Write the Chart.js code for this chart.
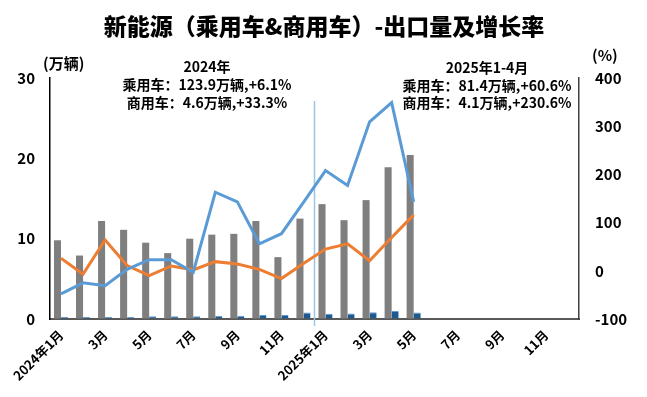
<!DOCTYPE html>
<html>
<head>
<meta charset="utf-8">
<script src="https://cdn.jsdelivr.net/npm/chart.js@4.4.1/dist/chart.umd.min.js"></script>
<style>
  html, body { margin: 0; padding: 0; background: #fff; }
  #wrap { width: 647px; height: 397px; position: relative; }
</style>
</head>
<body>
<div id="wrap"><canvas id="exportChart"></canvas></div>
<script>
// months on the x axis (2024-01 .. 2025-12)
const months = ['2024年1月', '2月', '3月', '4月', '5月', '6月', '7月', '8月', '9月', '10月', '11月', '12月',
                '2025年1月', '2月', '3月', '4月', '5月', '6月', '7月', '8月', '9月', '10月', '11月', '12月'];

// export volume, 万辆 (left axis)
const passengerExport = [9.8, 7.9, 12.2, 11.1, 9.5, 8.2, 10.0, 10.5, 10.6, 12.2, 7.7, 12.5, 14.3, 12.3, 14.8, 18.9, 20.4];
const commercialExport = [0.25, 0.25, 0.25, 0.25, 0.35, 0.33, 0.33, 0.4, 0.4, 0.5, 0.5, 0.8, 0.65, 0.7, 0.85, 1.0, 0.8];

// growth rate, % (right axis)
const commercialGrowth = [-48, -25, -31, 3, 23, 23, -3, 163, 143, 56, 77, 142, 208, 177, 309, 349, 143];
const passengerGrowth = [26, -7, 64, 11, -10, 10, 2, 19, 14, 3, -16, 15, 45, 56, 21, 69, 116];

const leftTicks = [0, 10, 20, 30];
const rightTicks = [-100, 0, 100, 200, 300, 400];

const FONT = '"Noto Sans CJK SC", "Noto Sans", sans-serif';

// title, unit labels, summary notes and the year divider
const overlayPlugin = {
    id: 'overlay',
    beforeDatasetsDraw(chart) {
        const { ctx, scales: { x } } = chart;
        const xDiv = x.getPixelForValue(11.5);
        ctx.save();
        ctx.strokeStyle = '#9DC3E6';
        ctx.lineWidth = 1.5;
        ctx.beginPath();
        ctx.moveTo(xDiv, 101);
        ctx.lineTo(xDiv, 326);
        ctx.stroke();
        ctx.restore();
    },
    afterDraw(chart) {
        const ctx = chart.ctx;
        ctx.save();
        ctx.fillStyle = '#000';
        ctx.textBaseline = 'middle';
        ctx.textAlign = 'center';
        ctx.font = `900 23px ${FONT}`;
        ctx.fillText('新能源（乘用车&商用车）-出口量及增长率', 324, 26);

        ctx.font = `bold 15px ${FONT}`;
        ctx.textAlign = 'left';
        ctx.fillText('(万辆)', 43, 63);
        ctx.fillText('(%)', 592, 55);

        ctx.textAlign = 'center';
        ctx.font = `bold 14px ${FONT}`;
        ctx.fillText('2024年', 207, 67);
        ctx.fillText('乘用车：123.9万辆,+6.1%', 207, 85);
        ctx.fillText('商用车：4.6万辆,+33.3%', 207, 103);

        ctx.fillText('2025年1-4月', 487, 68);
        ctx.fillText('乘用车：81.4万辆,+60.6%', 487, 86);
        ctx.fillText('商用车：4.1万辆,+230.6%', 487, 103);
        ctx.restore();
    }
};

new Chart(document.getElementById('exportChart'), {
    data: {
        labels: months,
        datasets: [
            {
                type: 'line', label: '商用车增长率', data: commercialGrowth, yAxisID: 'yRate',
                borderColor: '#5B9BD5', borderWidth: 3, pointRadius: 0, tension: 0, order: 1
            },
            {
                type: 'line', label: '乘用车增长率', data: passengerGrowth, yAxisID: 'yRate',
                borderColor: '#ED7D31', borderWidth: 3, pointRadius: 0, tension: 0, order: 2
            },
            {
                type: 'bar', label: '乘用车出口量', data: passengerExport, yAxisID: 'yVol',
                backgroundColor: '#7F7F7F', categoryPercentage: 0.64, barPercentage: 1.0, order: 3
            },
            {
                type: 'bar', label: '商用车出口量', data: commercialExport, yAxisID: 'yVol',
                backgroundColor: '#1F5A8F', borderColor: '#5B9BD5', borderWidth: { top: 1 },
                categoryPercentage: 0.64, barPercentage: 1.0, order: 4
            }
        ]
    },
    options: {
        responsive: true,
        maintainAspectRatio: false,
        animation: false,
        layout: { padding: { top: 78, left: 0, right: 0, bottom: 0 } },
        plugins: { legend: { display: false }, title: { display: false }, tooltip: { enabled: false } },
        scales: {
            x: {
                grid: { display: true, drawOnChartArea: false, drawTicks: false },
                border: { display: true, color: '#595959', width: 2 },
                afterFit: s => { s.height = 78; },
                ticks: {
                    autoSkip: false, maxRotation: 45, minRotation: 45, padding: 8,
                    color: '#000', font: { family: FONT, size: 13, weight: 'bold' },
                    callback: (v, i) => (i % 2 === 0 ? months[i] : '')
                }
            },
            yVol: {
                position: 'left', min: 0, max: 30,
                grid: { display: true, drawOnChartArea: false, drawTicks: false },
                border: { display: true, color: '#000', width: 1.5 },
                afterFit: s => { s.width = 50; },
                afterBuildTicks: s => { s.ticks = leftTicks.map(v => ({ value: v })); },
                ticks: { padding: 15, color: '#000', font: { family: FONT, size: 15, weight: 'bold' } }
            },
            yRate: {
                position: 'right', min: -100, max: 400,
                grid: { display: true, drawOnChartArea: false, drawTicks: false },
                border: { display: true, color: '#404040', width: 1.5 },
                afterFit: s => { s.width = 68; },
                afterBuildTicks: s => { s.ticks = rightTicks.map(v => ({ value: v })); },
                ticks: { padding: 16, color: '#000', font: { family: FONT, size: 15, weight: 'bold' } }
            }
        }
    },
    plugins: [overlayPlugin]
});
</script>
</body>
</html>
